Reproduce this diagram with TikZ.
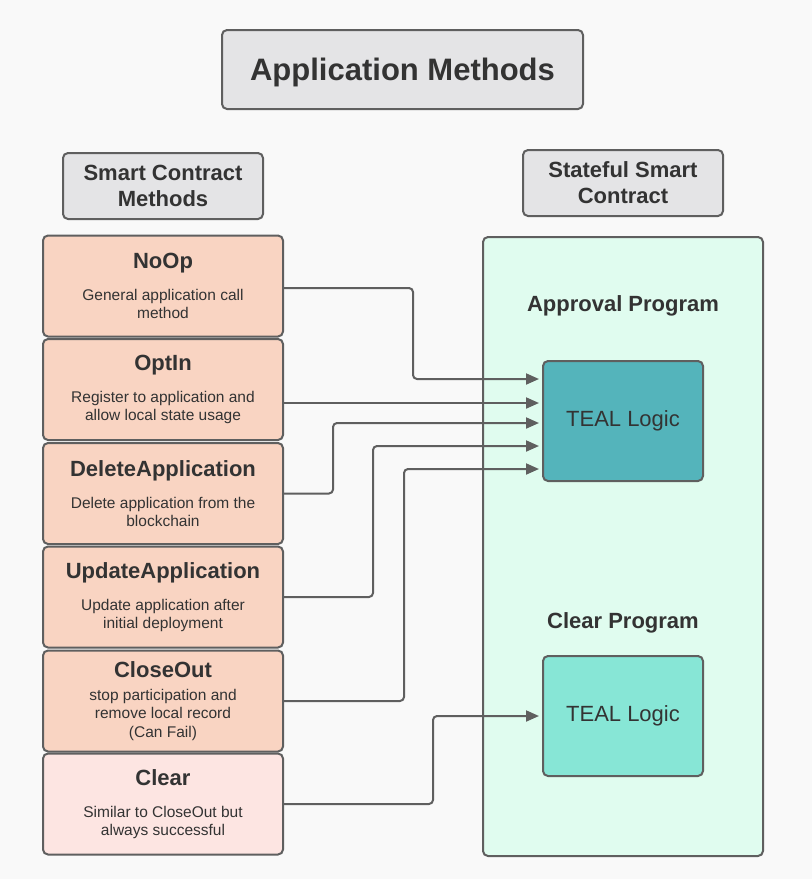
\documentclass[tikz,border=0pt]{standalone}
\usepackage{fontspec}
\setmainfont{Liberation Sans}
\usetikzlibrary{arrows.meta}

\definecolor{bgcol}{HTML}{F9F9F9}
\definecolor{linecol}{HTML}{5F5F5F}
\definecolor{txtcol}{HTML}{333333}
\definecolor{graycol}{HTML}{E4E4E6}
\definecolor{salmoncol}{HTML}{F9D4C2}
\definecolor{pinkcol}{HTML}{FDE5E2}
\definecolor{mintcol}{HTML}{E0FCEF}
\definecolor{tealdark}{HTML}{54B4BB}
\definecolor{teallight}{HTML}{87E6D6}

\newcommand{\hd}[1]{{\fontsize{22}{18.5}\selectfont\bfseries #1}}
\newcommand{\ds}{\fontsize{15.5}{18.5}\selectfont}

\tikzset{
  box/.style={draw=linecol, line width=2pt, rounded corners=5pt, text=txtcol, align=center, inner sep=0pt},
  headbox/.style={box, fill=graycol, minimum width=200pt, minimum height=66pt, font=\fontsize{22}{26}\selectfont\bfseries},
  methbox/.style={box, fill=salmoncol, minimum width=240pt, minimum height=101pt, font=\ds},
  tealbox/.style={box, minimum width=160pt, minimum height=120pt, font=\fontsize{22}{26}\selectfont},
  label/.style={text=txtcol, font=\fontsize{22}{26}\selectfont\bfseries},
  flow/.style={draw=linecol, line width=2pt, rounded corners=4pt, -{Triangle[length=13pt,width=11pt]}, shorten >=3pt},
}

\begin{document}
\begin{tikzpicture}[x=1pt, y=-1pt]
  \useasboundingbox[fill=bgcol] (0,0) rectangle (812,879);

  % titles
  \node[box, fill=graycol, minimum width=361pt, minimum height=79pt, text depth=0pt, font=\fontsize{31}{36}\selectfont\bfseries] (title) at (402.5,69.5) {Application Methods};
  \node[headbox] (scm) at (163,186) {Smart Contract\\Methods};
  \node[headbox] (ssc) at (623,183) {Stateful Smart\\Contract};

  % stateful contract side
  \node[box, fill=mintcol, minimum width=280pt, minimum height=619pt] (contract) at (623,546.5) {};
  \node[label] (approval) at (623,306) {Approval Program};
  \node[label] (clearprog) at (623,623) {Clear Program};
  \node[tealbox, fill=tealdark] (teal1) at (623,421) {TEAL Logic};
  \node[tealbox, fill=teallight] (teal2) at (623,716) {TEAL Logic};

  % methods
  \node[methbox] (noop) at (163,286) {\hd{NoOp}\\[13.5pt]General application call\\method};
  \node[methbox] (optin) at (163,389.5) {\hd{OptIn}\\[13.5pt]Register to application and\\allow local state usage};
  \node[methbox] (delete) at (163,493.5) {\hd{DeleteApplication}\\[13.5pt]Delete application from the\\blockchain};
  \node[methbox] (update) at (163,597) {\hd{UpdateApplication}\\[13.5pt]Update application after\\initial deployment};
  \node[methbox] (closeout) at (163,701) {\hd{CloseOut}\\[4.5pt]stop participation and\\remove local record\\(Can Fail)};
  \node[methbox, fill=pinkcol] (clear) at (163,804) {\hd{Clear}\\[13.5pt]Similar to CloseOut but\\always successful};

  % connectors
  \draw[flow] ([yshift=-2pt]noop.east) -- (413,288) |- ([yshift=42pt]teal1.west);
  \draw[flow] ([yshift=-13.5pt]optin.east) -- ([yshift=18pt]teal1.west);
  \draw[flow] (delete.east) -- (333,493.5) |- ([yshift=-2pt]teal1.west);
  \draw[flow] (update.east) -- (373,597) |- ([yshift=-25pt]teal1.west);
  \draw[flow] (closeout.east) -- (404,701) |- ([yshift=-48pt]teal1.west);
  \draw[flow] (clear.east) -- (433,804) |- (teal2.west);
\end{tikzpicture}
\end{document}
